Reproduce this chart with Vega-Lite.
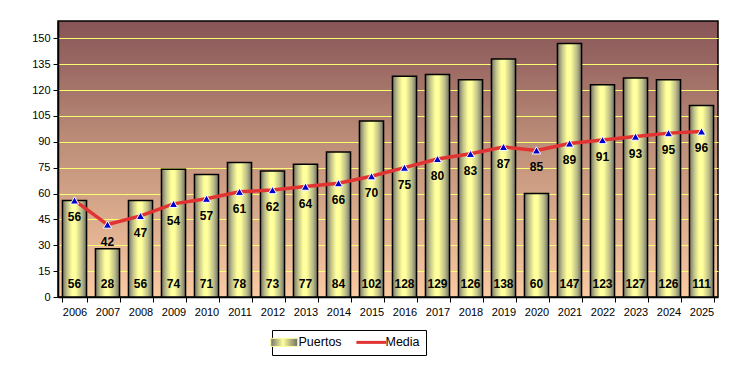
{
  "$schema": "https://vega.github.io/schema/vega-lite/v6.json",
  "width": 660,
  "height": 276,
  "autosize": "none",
  "padding": {"left": 58, "top": 21, "right": 33, "bottom": 68},
  "background": "white",
  "config": {
    "font": "Liberation Sans",
    "view": {"stroke": "black", "strokeWidth": 1.5},
    "axis": {"labelFont": "Liberation Sans", "labelFontSize": 11, "labelColor": "black", "domainColor": "black", "tickColor": "black", "title": null}
  },
  "view": {
    "fill": {"gradient": "linear", "x1": 0, "y1": 0, "x2": 0, "y2": 1,
      "stops": [{"offset": 0, "color": "#875457"}, {"offset": 0.45, "color": "#BE8F79"}, {"offset": 1, "color": "#FACAA2"}]},
    "stroke": "black",
    "strokeWidth": 1.5
  },
  "data": {"values": [
    {"year": "2006", "Puertos": 56, "Media": 56},
    {"year": "2007", "Puertos": 28, "Media": 42},
    {"year": "2008", "Puertos": 56, "Media": 47},
    {"year": "2009", "Puertos": 74, "Media": 54},
    {"year": "2010", "Puertos": 71, "Media": 57},
    {"year": "2011", "Puertos": 78, "Media": 61},
    {"year": "2012", "Puertos": 73, "Media": 62},
    {"year": "2013", "Puertos": 77, "Media": 64},
    {"year": "2014", "Puertos": 84, "Media": 66},
    {"year": "2015", "Puertos": 102, "Media": 70},
    {"year": "2016", "Puertos": 128, "Media": 75},
    {"year": "2017", "Puertos": 129, "Media": 80},
    {"year": "2018", "Puertos": 126, "Media": 83},
    {"year": "2019", "Puertos": 138, "Media": 87},
    {"year": "2020", "Puertos": 60, "Media": 85},
    {"year": "2021", "Puertos": 147, "Media": 89},
    {"year": "2022", "Puertos": 123, "Media": 91},
    {"year": "2023", "Puertos": 127, "Media": 93},
    {"year": "2024", "Puertos": 126, "Media": 95},
    {"year": "2025", "Puertos": 111, "Media": 96}
  ]},
  "encoding": {
    "x": {"field": "year", "type": "nominal", "scale": {"paddingInner": 0.27, "paddingOuter": 0.135},
      "axis": {"labelAngle": 0, "tickBand": "extent", "tickSize": 5, "labelPadding": 4, "domainWidth": 1.5, "grid": false}}
  },
  "layer": [
    {
      "mark": {"type": "bar", "stroke": "black", "strokeWidth": 1.5,
        "fill": {"gradient": "linear", "x1": 0, "y1": 0, "x2": 1, "y2": 0, "stops": [{"offset": 0, "color": "#737366"}, {"offset": 0.2, "color": "#C4C48A"}, {"offset": 0.4, "color": "#FFFF9C"}, {"offset": 0.55, "color": "#FFFF9C"}, {"offset": 0.8, "color": "#BDBD88"}, {"offset": 1, "color": "#6E6E64"}]}},
      "encoding": {
        "y": {"field": "Puertos", "type": "quantitative", "scale": {"domain": [0, 160], "nice": false},
          "axis": {"values": [0, 15, 30, 45, 60, 75, 90, 105, 120, 135, 150], "tickCount": 20, "labelOverlap": false, "grid": true, "gridColor": "#FFFF70", "gridWidth": 1.2, "gridOpacity": 1, "tickSize": 5, "domainWidth": 1.5, "labelPadding": 3}}
      }
    },
    {
      "mark": {"type": "text", "fontWeight": "bold", "fontSize": 12, "color": "black", "dy": -13, "baseline": "middle"},
      "encoding": {"y": {"datum": 0, "type": "quantitative"},
        "text": {"field": "Puertos", "type": "quantitative"}}
    },
    {
      "mark": {"type": "line", "strokeWidth": 3.5},
      "encoding": {"y": {"field": "Media", "type": "quantitative"},
        "color": {"datum": "Media", "type": "nominal",
          "scale": {"domain": ["Puertos", "Media"], "range": ["#FFFFA0", "#E23333"]},
          "legend": {
            "title": null, "orient": "none", "legendX": 214, "legendY": 309, "direction": "horizontal",
            "strokeColor": "black", "fillColor": "white", "padding": 6, "symbolSize": 729,
            "labelFontSize": 12.5, "labelFont": "Liberation Sans", "labelColor": "black", "columnPadding": 8, "labelOffset": 8,
            "encode": {"symbols": {"update": {
              "shape": {"signal": "datum.value === 'Puertos' ? 'M-1,-0.3H1V0.3H-1Z' : 'M-1.1,0H1.1'"},
              "fill": {"signal": "datum.value === 'Puertos' ? {gradient: 'linear', x1: 0, y1: 0, x2: 1, y2: 0, stops: [{offset: 0, color: '#737366'}, {offset: 0.45, color: '#FFFF9C'}, {offset: 1, color: '#6E6E64'}]} : 'transparent'"},
              "stroke": {"signal": "datum.value === 'Puertos' ? 'black' : '#E23333'"},
              "strokeWidth": {"signal": "datum.value === 'Puertos' ? 1 : 3"},
              "strokeOpacity": {"value": 1},
              "fillOpacity": {"value": 1},
              "opacity": {"value": 1}
            }}}
          }}}
    },
    {
      "mark": {"type": "point", "shape": "triangle-up", "filled": true, "fill": "#0000CC", "stroke": "white", "strokeWidth": 1, "size": 70, "opacity": 1},
      "encoding": {"y": {"field": "Media", "type": "quantitative"}}
    },
    {
      "mark": {"type": "text", "fontWeight": "bold", "fontSize": 12, "color": "black", "dy": 17, "baseline": "middle"},
      "encoding": {"y": {"field": "Media", "type": "quantitative"}, "text": {"field": "Media", "type": "quantitative"}}
    }
  ]
}
